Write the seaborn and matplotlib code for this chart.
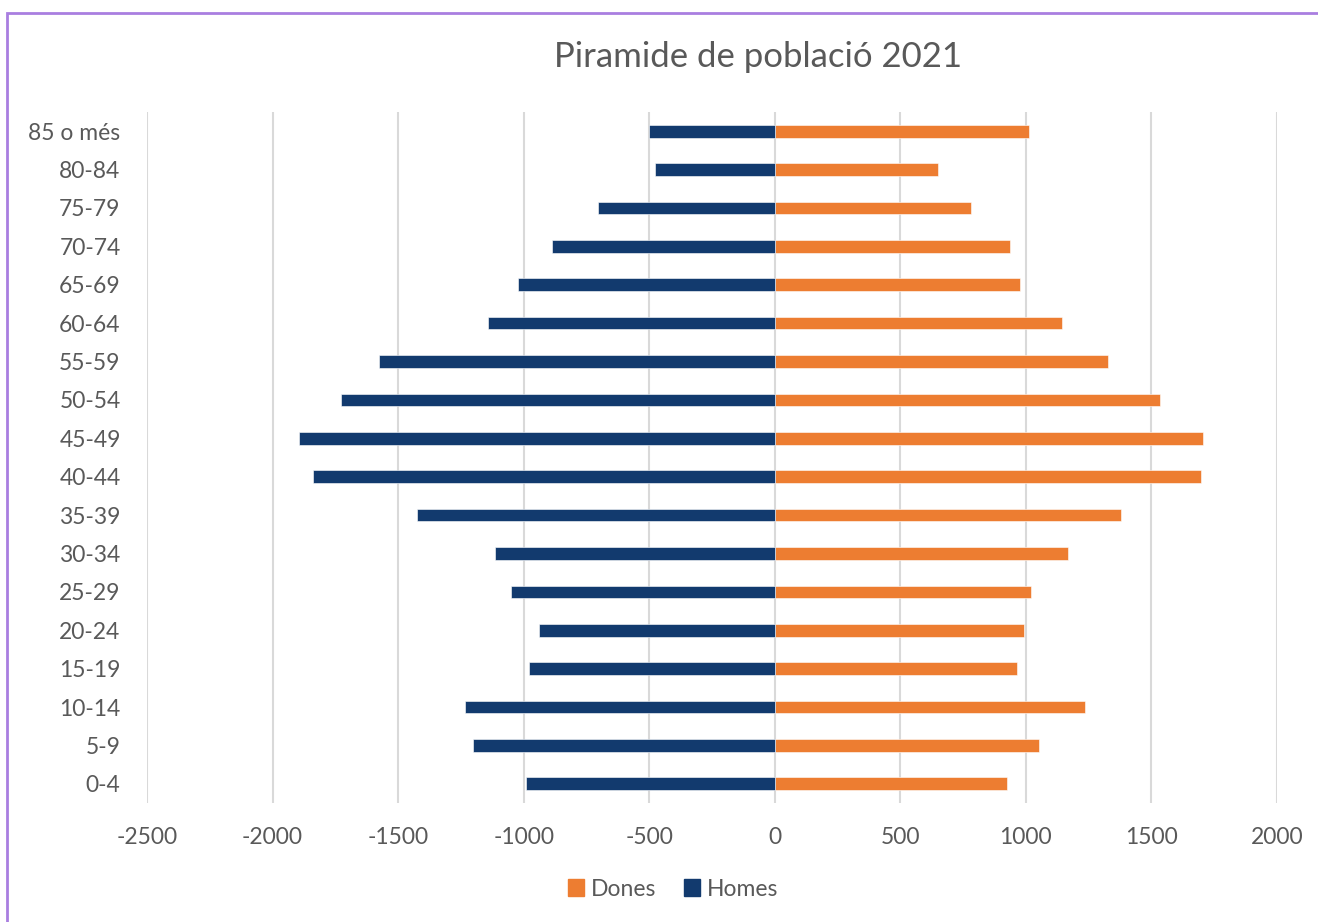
import matplotlib
matplotlib.use("Agg")
import matplotlib.pyplot as plt
import matplotlib.patches as mpatches
import seaborn as sns
import pandas as pd

grups = ["0-4", "5-9", "10-14", "15-19", "20-24", "25-29", "30-34", "35-39",
         "40-44", "45-49", "50-54", "55-59", "60-64", "65-69", "70-74",
         "75-79", "80-84", "85 o més"]
homes = [992, 1203, 1235, 980, 940, 1052, 1116, 1426, 1840, 1894,
         1727, 1578, 1143, 1024, 888, 705, 478, 500]
dones = [924, 1052, 1235, 964, 992, 1020, 1167, 1378, 1697, 1704,
         1536, 1327, 1143, 976, 936, 781, 649, 1012]

sns.set_style("white")
plt.rcParams["font.family"] = ["Lato", "DejaVu Sans"]
plt.rcParams["axes.unicode_minus"] = False
text_color = "#595959"
col_dones = "#ED7D31"
col_homes = "#123A6E"

df = pd.DataFrame({
    "grup": grups * 2,
    "sexe": ["Dones"] * len(grups) + ["Homes"] * len(grups),
    "valor": dones + [-h for h in homes],
})

fig = plt.figure(figsize=(13.18, 9.22), dpi=100)
ax = fig.add_axes([147 / 1318, 1 - 803 / 922, 1130 / 1318, 691 / 922])

sns.barplot(data=df, x="valor", y="grup", hue="sexe", order=grups[::-1],
            hue_order=["Dones", "Homes"], palette=[col_dones, col_homes],
            saturation=1, dodge=False, width=0.33, orient="h", ax=ax,
            legend=False, edgecolor="white", linewidth=0.4)

ax.set_xlim(-2500, 2000)
ax.set_ylim(17.5, -0.5)
ax.set_xticks(range(-2500, 2001, 500))
ax.set_xlabel("")
ax.set_ylabel("")
for s in ax.spines.values():
    s.set_visible(False)
ax.grid(axis="x", color="#d9d9d9", linewidth=1.5)
ax.set_axisbelow(True)
ax.tick_params(axis="both", length=0, labelsize=16.5, colors=text_color)
ax.tick_params(axis="x", pad=17)
ax.tick_params(axis="y", pad=19)

fig.text(758 / 1318, 1 - 57 / 922, "Piramide de població 2021", ha="center",
         va="center", fontsize=25, color=text_color)

handles = [mpatches.Patch(color=col_dones, label="Dones"),
           mpatches.Patch(color=col_homes, label="Homes")]
leg = fig.legend(handles=handles, loc="center", ncol=2,
                 bbox_to_anchor=(673 / 1318, 1 - 889 / 922), frameon=False,
                 fontsize=16.5, handlelength=0.7, handleheight=0.7,
                 handletextpad=0.3, columnspacing=1.2)
for t in leg.get_texts():
    t.set_color(text_color)

# chart border
fig.patches.append(mpatches.Rectangle((7 / 1318, -0.05), 1.2, 1 - 13 / 922 + 0.05,
                                      transform=fig.transFigure, fill=False,
                                      edgecolor="#A97EE0", linewidth=2))

fig.savefig("out.png", dpi=100)
